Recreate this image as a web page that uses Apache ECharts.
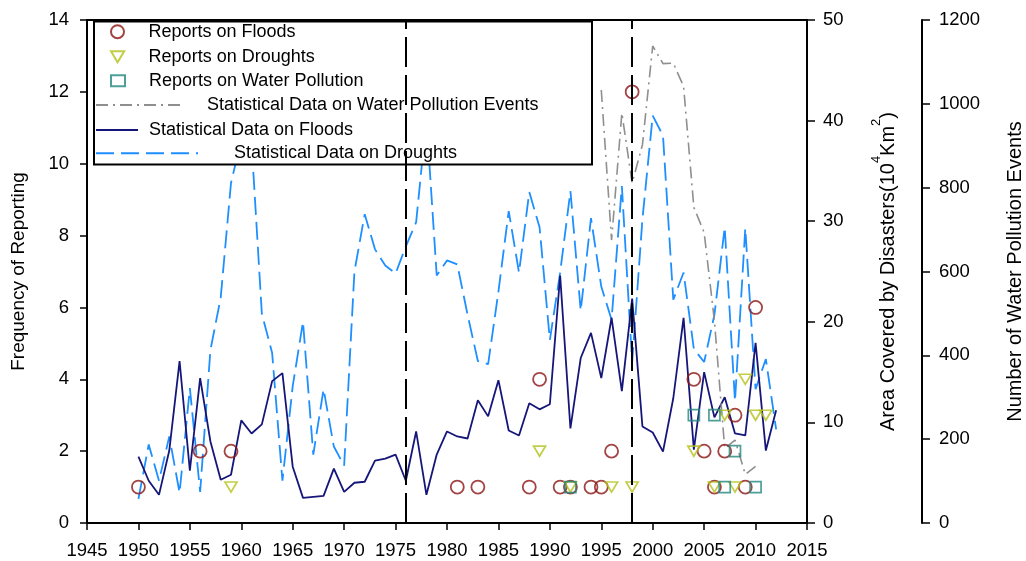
<!DOCTYPE html>
<html><head><meta charset="utf-8">
<script src="https://cdn.jsdelivr.net/npm/echarts@6/dist/echarts.min.js"></script>
<style>html,body{margin:0;padding:0;background:#fff}#c{width:1026px;height:561px}</style>
</head><body><div id="c"></div>
<script>
// ---- data ----
const statYears = [1950,1951,1952,1953,1954,1955,1956,1957,1958,1959,1960,1961,1962,1963,1964,1965,1966,1967,1968,1969,1970,1971,1972,1973,1974,1975,1976,1977,1978,1979,1980,1981,1982,1983,1984,1985,1986,1987,1988,1989,1990,1991,1992,1993,1994,1995,1996,1997,1998,1999,2000,2001,2002,2003,2004,2005,2006,2007,2008,2009,2010,2011,2012];
const floodArea = [6.6,4.2,2.8,7.2,16.1,5.2,14.4,8.1,4.3,4.8,10.2,8.9,9.8,14.1,14.9,5.6,2.5,2.6,2.7,5.4,3.1,4.0,4.1,6.2,6.4,6.8,4.2,9.1,2.8,6.8,9.1,8.6,8.4,12.2,10.6,14.2,9.2,8.7,11.9,11.3,11.8,24.6,9.4,16.4,18.9,14.4,20.4,13.1,22.3,9.6,9.0,7.1,12.4,20.4,7.3,15.0,10.5,12.5,8.9,8.7,17.9,7.2,11.2];
const droughtArea = [2.4,7.8,4.2,8.6,3.0,13.4,3.1,17.2,22.4,33.8,38.1,37.8,20.8,16.9,4.2,13.6,20.0,6.8,13.3,7.6,5.7,25.0,30.7,27.2,25.6,24.8,27.5,29.9,40.2,24.6,26.1,25.7,20.7,16.1,15.8,23.0,31.0,24.9,32.9,29.4,18.2,24.9,33.0,21.1,30.3,23.5,20.2,33.5,16.0,30.2,40.5,38.5,22.2,24.9,17.3,16.0,20.7,29.4,12.1,29.3,13.3,16.3,9.3];
const pollutionYears = [1995,1996,1997,1998,1999,2000,2001,2002,2003,2004,2005,2006,2007,2008,2009,2010];
const pollutionEvents = [1033,675,978,811,902,1138,1096,1097,1042,753,693,482,178,198,116,135];

const floodReportYears = [1950,1956,1959,1981,1983,1988,1989,1991,1992,1994,1995,1996,1998,2004,2005,2006,2007,2008,2009,2010];
const floodReports     = [1,2,2,1,1,1,4,1,1,1,1,2,12,4,2,1,2,3,1,6];
const droughtReportYears = [1959,1989,1992,1996,1998,2004,2006,2007,2008,2009,2010,2011];
const droughtReports     = [1,2,1,1,1,2,1,3,1,4,3,3];
const pollutionReportYears = [1992,2004,2006,2007,2008,2010];
const pollutionReports     = [1,3,3,1,2,1];

const dividerYears = [1976, 1998];
const seriesNames = ['Reports on Floods','Reports on Droughts','Reports on Water Pollution',
  'Statistical Data on Water Pollution Events','Statistical Data on Floods','Statistical Data on Droughts'];

// ---- helpers ----
const zip = (xs, ys) => xs.map((x, i) => [x, ys[i]]);
const FONT = '"Liberation Sans", Arial, sans-serif';
const plain = v => String(v);
const axisCommon = {
  axisLine: {show: true, lineStyle: {color: '#000', width: 2}},
  axisTick: {show: true, length: 7, lineStyle: {color: '#000', width: 1.5}},
  axisLabel: {color: '#000', fontSize: 18.5, fontFamily: FONT, formatter: plain},
  splitLine: {show: false}
};
function legendRow(name, left, centerY, w, h, pad, isLine) {
  const l = {
    data: [name], left: left, top: centerY - 10, orient: 'horizontal',
    itemWidth: w, itemHeight: h, padding: 0, selectedMode: false,
    textStyle: {fontSize: 18, fontFamily: FONT, color: '#000', lineHeight: 20, padding: [0, 0, 0, pad]}
  };
  if (isLine) l.itemStyle = {opacity: 0, borderWidth: 0};
  return l;
}

const chart = echarts.init(document.getElementById('c'), null, {renderer: 'canvas'});
chart.setOption({
  animation: false,
  backgroundColor: '#fff',
  textStyle: {fontFamily: FONT},
  grid: {left: 87, right: 219, top: 20, bottom: 38, outerBoundsMode: 'none', containLabel: false,
    show: true, borderColor: '#000', borderWidth: 2, backgroundColor: 'transparent'},
  graphic: [{type: 'rect', z: 3, shape: {x: 94, y: 21.5, width: 498, height: 143},
    style: {fill: '#fff', stroke: '#000', lineWidth: 2}}],
  legend: [
    legendRow(seriesNames[0], 110, 31.7, 14, 13, 19, false),
    legendRow(seriesNames[1], 110, 56.7, 14, 11, 19, false),
    legendRow(seriesNames[2], 110, 80.7, 14, 11, 19, false),
    legendRow(seriesNames[3], 95, 105, 85, 12, 21, true),
    legendRow(seriesNames[4], 95, 130, 42, 12, 6, true),
    legendRow(seriesNames[5], 95, 153.3, 102, 12, 31, true)
  ],
  xAxis: Object.assign({}, axisCommon, {
    type: 'value', min: 1945, max: 2015, interval: 5,
    axisLabel: Object.assign({}, axisCommon.axisLabel, {margin: 18})
  }),
  yAxis: [
    Object.assign({}, axisCommon, {
      type: 'value', position: 'left', min: 0, max: 14, interval: 2,
      axisLabel: Object.assign({}, axisCommon.axisLabel, {margin: 18}),
      name: 'Frequency of Reporting', nameLocation: 'middle', nameGap: 58,
      nameTextStyle: {fontSize: 19, color: '#000', fontFamily: FONT, lineHeight: 20}
    }),
    Object.assign({}, axisCommon, {
      type: 'value', position: 'right', min: 0, max: 50, interval: 10,
      axisTick: {show: true, length: 8, lineStyle: {color: '#000', width: 1.5}},
      axisLabel: Object.assign({}, axisCommon.axisLabel, {margin: 16}),
      name: 'Area Covered by Disasters(10{s|4}Km{s|2})', nameLocation: 'middle', nameGap: 63,
      nameTextStyle: {fontSize: 20, color: '#000', fontFamily: FONT, lineHeight: 36,
        rich: {s: {fontSize: 13, fontFamily: FONT, color: '#000', lineHeight: 14, verticalAlign: 'top'}}}
    }),
    Object.assign({}, axisCommon, {
      type: 'value', position: 'right', offset: 115, min: 0, max: 1200, interval: 200,
      axisTick: {show: true, length: 8, lineStyle: {color: '#000', width: 1.5}},
      axisLabel: Object.assign({}, axisCommon.axisLabel, {margin: 17}),
      name: 'Number of Water Pollution Events', nameLocation: 'middle', nameGap: 83,
      nameTextStyle: {fontSize: 20, color: '#000', fontFamily: FONT, lineHeight: 20}
    })
  ],
  series: [
    {name: seriesNames[5], type: 'line', yAxisIndex: 1, symbol: 'none', z: 2,
      lineStyle: {color: '#1e8fff', width: 1.8, type: [18, 7]}, itemStyle: {color: '#1e8fff'},
      data: zip(statYears, droughtArea)},
    {name: seriesNames[4], type: 'line', yAxisIndex: 1, symbol: 'none', z: 2,
      lineStyle: {color: '#16167a', width: 1.8}, itemStyle: {color: '#16167a'},
      data: zip(statYears, floodArea),
      markLine: {silent: true, symbol: ['none', 'none'], label: {show: false},
        lineStyle: {color: '#000', width: 2, type: [30, 8]},
        data: dividerYears.map(y => ({xAxis: y}))}},
    {name: seriesNames[3], type: 'line', yAxisIndex: 2, symbol: 'none', z: 2,
      lineStyle: {color: '#8f8f8f', width: 1.6, type: [12, 5, 2, 5]}, itemStyle: {color: '#8f8f8f'},
      data: zip(pollutionYears, pollutionEvents)},
    {name: seriesNames[0], type: 'scatter', yAxisIndex: 0, symbol: 'circle', symbolSize: 13, z: 2,
      itemStyle: {color: 'rgba(0,0,0,0)', borderColor: '#8c1515', borderWidth: 1.8},
      data: zip(floodReportYears, floodReports)},
    {name: seriesNames[1], type: 'scatter', yAxisIndex: 0, symbol: 'path://M0,0L12,0L6,10Z', symbolSize: [12, 10], z: 2,
      itemStyle: {color: 'rgba(0,0,0,0)', borderColor: '#b4c21a', borderWidth: 1.7},
      data: zip(droughtReportYears, droughtReports)},
    {name: seriesNames[2], type: 'scatter', yAxisIndex: 0, symbol: 'rect', symbolSize: 11, z: 2,
      itemStyle: {color: 'rgba(0,0,0,0)', borderColor: '#21877e', borderWidth: 1.7},
      data: zip(pollutionReportYears, pollutionReports)}
  ]
});
</script></body></html>
